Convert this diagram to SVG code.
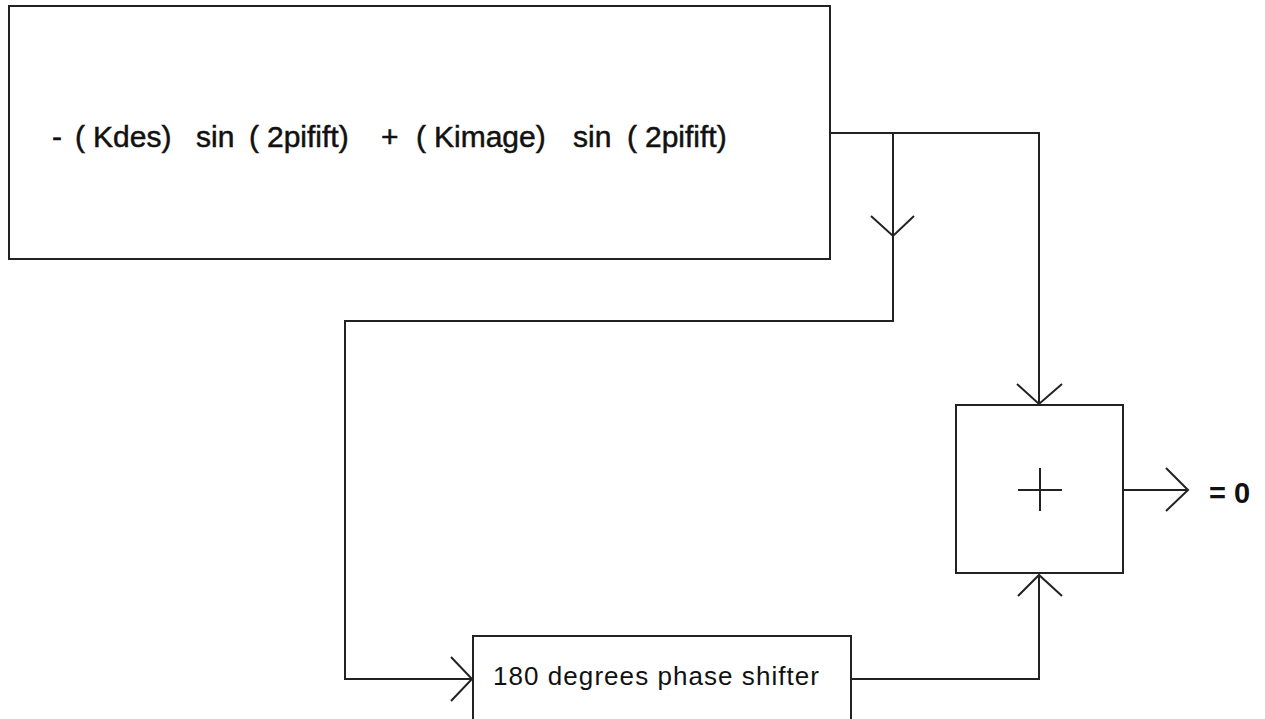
<svg xmlns="http://www.w3.org/2000/svg" width="1265" height="719" viewBox="0 0 1265 719">
<style>
.box{fill:#fff;stroke:#222;stroke-width:2}
.ln{fill:none;stroke:#222;stroke-width:2}
.t{font-family:"Liberation Sans",Arial,sans-serif;fill:#111}
.heavy{stroke:#111;stroke-width:0.5}
</style>
<rect width="1265" height="719" fill="#fff"/>
<g id="connectors">
<polyline class="ln" points="830,133 1039,133 1039,404"/>
<polyline class="ln" points="893,133 893,321 345,321 345,679 472,679"/>
<polyline class="ln" points="851,679 1039,679 1039,575"/>
<line class="ln" x1="1123" y1="490" x2="1188" y2="490"/>
<polyline class="ln" points="871,216 893,236 914,216"/>
<polyline class="ln" points="1017,384 1039,404 1062,384"/>
<polyline class="ln" points="1018,596 1039,575 1062,596"/>
<polyline class="ln" points="1166,468 1188,490 1166,511"/>
<polyline class="ln" points="451,657 472,679 451,701"/>
</g>
<g id="source">
<rect class="box" x="9" y="6" width="821" height="253"/>
<text class="t heavy" font-size="30" y="147"><tspan x="52">-</tspan><tspan x="75">(</tspan><tspan x="93">Kdes)</tspan><tspan x="196">sin</tspan><tspan x="249">(</tspan><tspan x="267">2pifift)</tspan><tspan x="381">+</tspan><tspan x="416">(</tspan><tspan x="434">Kimage)</tspan><tspan x="573">sin</tspan><tspan x="627">(</tspan><tspan x="645">2pifift)</tspan></text>
</g>
<g id="phase-shifter">
<rect class="box" x="473" y="636" width="378" height="100"/>
<text class="t" font-size="26" x="493" y="685" textLength="326" lengthAdjust="spacing">180 degrees phase shifter</text>
</g>
<g id="summer">
<rect class="box" x="956" y="405" width="167" height="168"/>
<line class="ln" x1="1018" y1="490" x2="1062" y2="490"/>
<line class="ln" x1="1040" y1="468" x2="1040" y2="511"/>
</g>
<g id="output">
<text class="t" font-size="29" font-weight="bold" x="1209" y="503">= 0</text>
</g>
</svg>
